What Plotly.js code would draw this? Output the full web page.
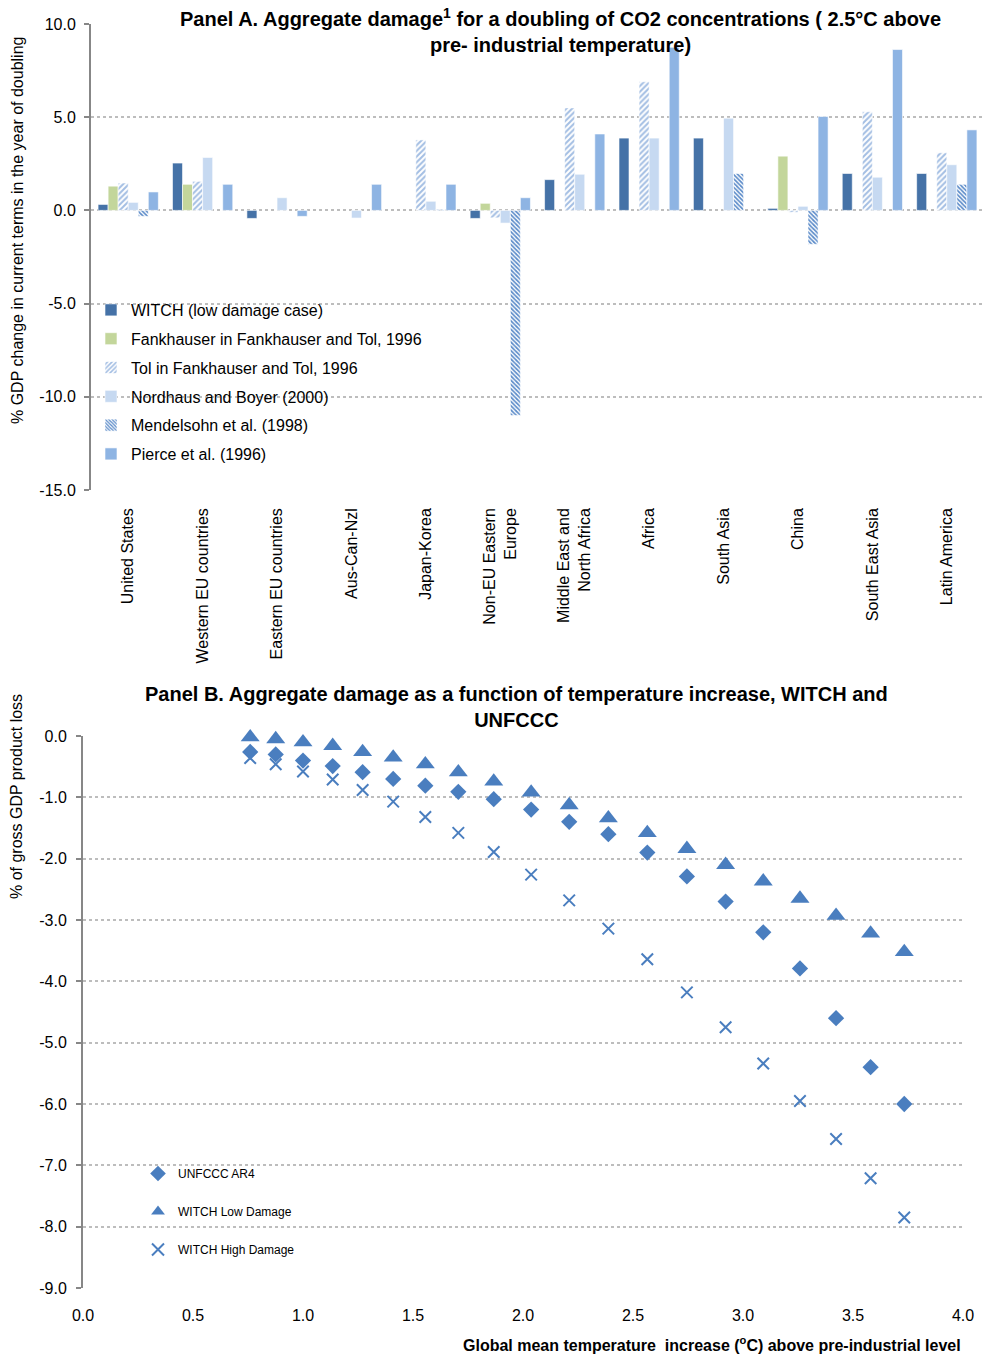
<!DOCTYPE html>
<html>
<head>
<meta charset="utf-8">
<script src="https://cdn.plot.ly/plotly-3.0.1.min.js"></script>
<style>html,body{margin:0;padding:0;background:#fff;}#chart{width:984px;height:1355px;}</style>
</head>
<body>
<div id="chart"></div>
<script>
// ---------- Panel A data ----------
const regions = ['United States','Western EU countries','Eastern EU countries','Aus-Can-Nzl','Japan-Korea','Non-EU Eastern<br>Europe','Middle East and<br>North Africa','Africa','South Asia','China','South East Asia','Latin America'];
const witchLow   = [0.32, 2.54, -0.43, null, null, -0.43, 1.65, 3.88, 3.88, 0.11, 1.98, 1.98];
const fankhauser = [1.30, 1.40, null, null, null, 0.38, null, null, null, 2.91, null, null];
const tolFT      = [1.47, 1.56, null, null, 3.78, -0.40, 5.50, 6.90, null, -0.10, 5.29, 3.09];
const nordhaus   = [0.43, 2.84, 0.68, -0.41, 0.49, -0.68, 1.94, 3.88, 4.95, 0.22, 1.78, 2.45];
const mendelsohn = [-0.32, null, null, null, 0.05, -11.0, null, null, 1.98, -1.82, null, 1.40];
const pierce     = [0.99, 1.40, -0.32, 1.40, 1.40, 0.68, 4.10, 8.75, null, 5.04, 8.63, 4.32];
const panelAYTicks = [10, 5, 0, -5, -10, -15];

// ---------- Panel B data ----------
const tempIncrease = [0.760, 0.876, 1.000, 1.135, 1.271, 1.410, 1.556, 1.706, 1.867, 2.037, 2.210, 2.388, 2.565, 2.745, 2.921, 3.092, 3.259, 3.423, 3.580, 3.733];
const unfcccAR4    = [-0.26, -0.30, -0.40, -0.49, -0.59, -0.70, -0.81, -0.91, -1.03, -1.20, -1.40, -1.60, -1.90, -2.29, -2.70, -3.20, -3.79, -4.60, -5.40, -6.00];
const witchLowDmg  = [-0.02, -0.05, -0.10, -0.16, -0.26, -0.35, -0.46, -0.59, -0.74, -0.92, -1.125, -1.34, -1.58, -1.84, -2.10, -2.37, -2.65, -2.93, -3.22, -3.52];
const witchHighDmg = [-0.36, -0.46, -0.58, -0.71, -0.88, -1.07, -1.32, -1.58, -1.89, -2.26, -2.68, -3.14, -3.64, -4.18, -4.75, -5.34, -5.95, -6.57, -7.21, -7.85];
const panelBYTicks = [0, -1, -2, -3, -4, -5, -6, -7, -8, -9];
const panelBXTicks = [0, 0.5, 1, 1.5, 2, 2.5, 3, 3.5, 4];

const FONT = 'Liberation Sans, Arial, sans-serif';
const AXIS = '#878787';
const GRID = '#BDBDBD';
const BLUE = '#4A7EBF';
const fmt = v => v.toFixed(1);   // plain hyphen minus as in the original

// layout geometry (pixels -> paper)
const W = 984, H = 1355, mL = 83, mR = 0, mT = 24, mB = 67;
const pw = W - mL - mR, ph = H - mT - mB;
const px = x => (x - mL) / pw;
const py = y => (H - mB - y) / ph;

const yA = [py(490), py(24)];
const yB = [py(1288), py(736)];
const xA = [px(91), 1];
const xB = [0, px(963)];
const zeroPos = yA[0] + (0 - (-15)) / 25 * (yA[1] - yA[0]);

function barTrace(name, vals, marker, grp) {
  return {type: 'bar', name: name, x: regions, y: vals, xaxis: 'x', yaxis: 'y',
          marker: marker, legend: 'legend', legendgroup: grp, hoverinfo: 'x+y+name'};
}

const traces = [
  barTrace('WITCH (low damage case)', witchLow, {color: '#4572A7', line: {color: '#FFFFFF', width: 0.6}}, 'a1'),
  barTrace('Fankhauser in Fankhauser and Tol, 1996', fankhauser, {color: '#C3D69B', line: {color: '#FFFFFF', width: 0.6}}, 'a2'),
  barTrace('Tol in Fankhauser and Tol, 1996', tolFT, {color: '#FFFFFF', line: {color: '#FFFFFF', width: 0.6},
           pattern: {shape: '/', fgcolor: '#A3BEE3', bgcolor: '#FFFFFF', size: 4, solidity: 0.5}}, 'a3'),
  barTrace('Nordhaus and Boyer (2000)', nordhaus, {color: '#C6D9F1', line: {color: '#FFFFFF', width: 0.6}}, 'a4'),
  barTrace('Mendelsohn et al. (1998)', mendelsohn, {color: '#FFFFFF', line: {color: '#FFFFFF', width: 0.6},
           pattern: {shape: '\\', fgcolor: '#5B8BC9', bgcolor: '#FFFFFF', size: 3, solidity: 0.55}}, 'a5'),
  barTrace('Pierce et al. (1996)', pierce, {color: '#8EB4E3', line: {color: '#FFFFFF', width: 0.6}}, 'a6'),
  {type: 'scatter', mode: 'markers', name: 'UNFCCC AR4', x: tempIncrease, y: unfcccAR4, xaxis: 'x2', yaxis: 'y2', cliponaxis: false,
   marker: {symbol: 'diamond', size: 12.5, color: BLUE}, legend: 'legend2', legendgroup: 'b1'},
  {type: 'scatter', mode: 'markers', name: 'WITCH Low Damage', x: tempIncrease, y: witchLowDmg, xaxis: 'x2', yaxis: 'y2', cliponaxis: false,
   marker: {symbol: 'triangle-up', size: 16.5, color: BLUE}, legend: 'legend2', legendgroup: 'b2'},
  {type: 'scatter', mode: 'markers', name: 'WITCH High Damage', x: tempIncrease, y: witchHighDmg, xaxis: 'x2', yaxis: 'y2', cliponaxis: false,
   marker: {symbol: 'x-thin-open', size: 11.5, color: BLUE, line: {color: BLUE, width: 2}}, legend: 'legend2', legendgroup: 'b3'}
];

const tickFont = {family: FONT, size: 16, color: '#000'};

const layout = {
  width: W, height: H,
  margin: {l: mL, r: mR, t: mT, b: mB, pad: 0},
  paper_bgcolor: '#FFFFFF', plot_bgcolor: 'rgba(0,0,0,0)',
  font: {family: FONT, color: '#000'},
  barmode: 'group', bargap: 0.19, bargroupgap: 0,
  showlegend: true,
  xaxis: {domain: xA, anchor: 'y', type: 'category', range: [-0.5, 11.5], tickangle: -90,
          showline: false, showgrid: false, zeroline: false, ticks: '', tickfont: tickFont,
          ticklabelstandoff: 14, automargin: false},
  xaxis3: {overlaying: 'x', anchor: 'free', position: zeroPos, range: [-0.5, 11.5], type: 'linear',
           showline: true, linecolor: AXIS, linewidth: 2, ticks: 'outside', ticklen: 5, tickwidth: 2, tickcolor: AXIS,
           tickmode: 'array', tickvals: [0.5,1.5,2.5,3.5,4.5,5.5,6.5,7.5,8.5,9.5,10.5,11.5], showticklabels: false,
           showgrid: false, zeroline: false, fixedrange: true},
  yaxis: {domain: yA, anchor: 'x', range: [-15, 10], tickmode: 'array', tickvals: panelAYTicks, ticktext: panelAYTicks.map(fmt),
          showline: true, linecolor: AXIS, linewidth: 2, ticks: 'outside', ticklen: 5, tickwidth: 2, tickcolor: AXIS,
          ticklabelstandoff: 5,
          showgrid: true, gridcolor: GRID, gridwidth: 2, griddash: 'dot', zeroline: false, tickfont: tickFont, automargin: false},
  xaxis2: {domain: xB, anchor: 'y2', range: [0, 4], tickmode: 'array', tickvals: panelBXTicks, ticktext: panelBXTicks.map(fmt),
           showline: false, showgrid: false, zeroline: false, ticks: '', tickfont: tickFont, ticklabelstandoff: 16, automargin: false},
  xaxis4: {overlaying: 'x2', anchor: 'y2', side: 'top', range: [0, 4], tickmode: 'array', tickvals: panelBXTicks,
           showline: true, linecolor: AXIS, linewidth: 2, ticks: 'outside', ticklen: 5, tickwidth: 2, tickcolor: AXIS,
           showticklabels: false, showgrid: false, zeroline: false},
  yaxis2: {domain: yB, anchor: 'x2', range: [-9, 0], tickmode: 'array', tickvals: panelBYTicks, ticktext: panelBYTicks.map(fmt),
           showline: true, linecolor: AXIS, linewidth: 2, ticks: 'outside', ticklen: 5, tickwidth: 2, tickcolor: AXIS,
           ticklabelstandoff: 6,
           showgrid: true, gridcolor: GRID, gridwidth: 2, griddash: 'dot', zeroline: false, tickfont: tickFont, automargin: false},
  legend: {x: px(91), y: py(293), xanchor: 'left', yanchor: 'top', bgcolor: 'rgba(0,0,0,0)', borderwidth: 0,
           font: {family: FONT, size: 16, color: '#000'}, tracegroupgap: 5, traceorder: 'grouped'},
  legend2: {x: px(138), y: py(1159), xanchor: 'left', yanchor: 'top', bgcolor: 'rgba(0,0,0,0)', borderwidth: 0,
            font: {family: FONT, size: 12, color: '#000'}, tracegroupgap: 19, traceorder: 'grouped', itemsizing: 'constant'},
  annotations: [
    {text: '<b>Panel A. Aggregate damage<sup>1</sup> for a doubling of CO2 concentrations ( 2.5°C above<br>pre- industrial temperature)</b>',
     xref: 'paper', yref: 'paper', x: px(560), y: py(30), xanchor: 'center', yanchor: 'middle', showarrow: false,
     font: {family: FONT, size: 20, color: '#000'}},
    {text: '% GDP change in current terms in the year of doubling', textangle: -90,
     xref: 'paper', yref: 'paper', x: px(18), y: py(231), xanchor: 'center', yanchor: 'middle', showarrow: false,
     font: {family: FONT, size: 16, color: '#000'}},
    {text: '<b>Panel B. Aggregate damage as a function of temperature increase, WITCH and<br>UNFCCC</b>',
     xref: 'paper', yref: 'paper', x: px(516), y: py(707), xanchor: 'center', yanchor: 'middle', showarrow: false,
     font: {family: FONT, size: 20, color: '#000'}},
    {text: '% of gross GDP product loss', textangle: -90,
     xref: 'paper', yref: 'paper', x: px(16), y: py(797), xanchor: 'center', yanchor: 'middle', showarrow: false,
     font: {family: FONT, size: 16, color: '#000'}},
    {text: '<b>Global mean temperature  increase (<sup>o</sup>C) above pre-industrial level</b>',
     xref: 'paper', yref: 'paper', x: px(963), y: py(1344), xanchor: 'right', yanchor: 'middle', showarrow: false,
     font: {family: FONT, size: 16, color: '#000'}}
  ]
};

Plotly.newPlot('chart', traces, layout, {displayModeBar: false, staticPlot: true});
</script>
</body>
</html>
